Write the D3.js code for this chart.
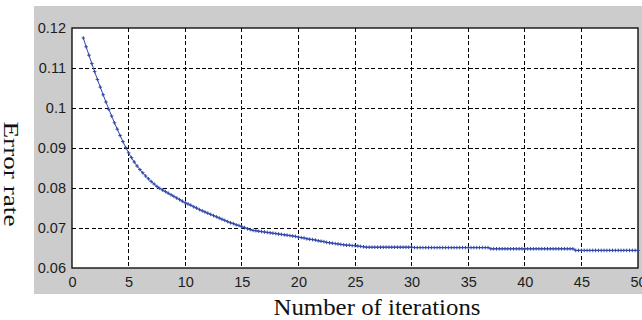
<!DOCTYPE html>
<html>
<head>
  <meta charset="utf-8">
  <script src="https://d3js.org/d3.v7.min.js"></script>
  <style>
    body { margin: 0; background: #fff; }
    .tick text { font-family: "Liberation Sans", Arial, sans-serif; font-size: 14.5px; fill: #1c1c1c; }
    .label { font-family: "Liberation Serif", "Times New Roman", serif; fill: #111; }
  </style>
</head>
<body>
<script>
// sampling of the curve: first iteration and step between samples
var iterStart = 1,
    iterStep = 0.25;

// error rate, one value per sample (1 .. 50 step 0.25)
var errorRate = [
  0.1175, 0.1153, 0.1132, 0.1111, 0.1091, 0.1071, 0.1052, 0.1033,
  0.1015, 0.0997, 0.0980, 0.0963, 0.0947, 0.0931, 0.0916, 0.0901,
  0.0888, 0.0876, 0.0865, 0.0855, 0.0846, 0.0838, 0.0830, 0.0823,
  0.0816, 0.0810, 0.0804, 0.0799, 0.0795, 0.0791, 0.0787, 0.0783,
  0.0779, 0.0775, 0.0771, 0.0767, 0.0763, 0.0760, 0.0757, 0.0753,
  0.0750, 0.0746, 0.0743, 0.0740, 0.0737, 0.0734, 0.0731, 0.0728,
  0.0725, 0.0722, 0.0719, 0.0716, 0.0713, 0.0711, 0.0708, 0.0706,
  0.0703, 0.0701, 0.0698, 0.0696, 0.0694, 0.0693, 0.0692, 0.0691,
  0.0690, 0.0689, 0.0688, 0.0687, 0.0686, 0.0685, 0.0684, 0.0683,
  0.0682, 0.0681, 0.0680, 0.0679, 0.0677, 0.0676, 0.0675, 0.0673,
  0.0672, 0.0671, 0.0670, 0.0668, 0.0667, 0.0666, 0.0664, 0.0663,
  0.0662, 0.0661, 0.0660, 0.0659, 0.0658, 0.0657, 0.0657, 0.0656,
  0.0656, 0.0655, 0.0654, 0.0653,
  // 26 .. 30
  0.0652, 0.0652, 0.0652, 0.0652, 0.0652, 0.0652, 0.0652, 0.0652,
  0.0652, 0.0652, 0.0652, 0.0652, 0.0652, 0.0652, 0.0652, 0.0652, 0.0652,
  // 30.25 .. 36.75
  0.0651, 0.0651, 0.0651, 0.0651, 0.0651, 0.0651, 0.0651, 0.0651, 0.0651,
  0.0651, 0.0651, 0.0651, 0.0651, 0.0651, 0.0651, 0.0651, 0.0651, 0.0651,
  0.0651, 0.0651, 0.0651, 0.0651, 0.0651, 0.0651, 0.0651, 0.0651, 0.0651,
  // 37 .. 44.25
  0.0648, 0.0648, 0.0648, 0.0648, 0.0648, 0.0648, 0.0648, 0.0648, 0.0648, 0.0648,
  0.0648, 0.0648, 0.0648, 0.0648, 0.0648, 0.0648, 0.0648, 0.0648, 0.0648, 0.0648,
  0.0648, 0.0648, 0.0648, 0.0648, 0.0648, 0.0648, 0.0648, 0.0648, 0.0648, 0.0648,
  // 44.5 .. 50
  0.0644, 0.0644, 0.0644, 0.0644, 0.0644, 0.0644, 0.0644, 0.0644,
  0.0644, 0.0644, 0.0644, 0.0644, 0.0644, 0.0644, 0.0644, 0.0644,
  0.0644, 0.0644, 0.0644, 0.0644, 0.0644, 0.0644, 0.0644
];

var xTicks = [0, 5, 10, 15, 20, 25, 30, 35, 40, 45, 50];
var yTicks = [0.06, 0.07, 0.08, 0.09, 0.1, 0.11, 0.12];
var xLabel = "Number of iterations",
    yLabel = "Error rate";

var width = 642, height = 320;
var plotLeft = 72, plotRight = 638, plotTop = 28, plotBottom = 268;

var data = errorRate.map(function (v, i) {
  return { iter: iterStart + i * iterStep, err: v };
});

var svg = d3.select("body").append("svg")
    .attr("width", width)
    .attr("height", height);

svg.append("rect")
    .attr("width", width).attr("height", height)
    .attr("fill", "#fff");

// grey figure background
svg.append("rect")
    .attr("x", 34).attr("y", 6)
    .attr("width", width - 34).attr("height", 288)
    .attr("fill", "#cccccc");

var x = d3.scaleLinear().domain([0, 50]).range([plotLeft, plotRight]);
var y = d3.scaleLinear().domain([0.06, 0.12]).range([plotBottom, plotTop]);

svg.append("rect")
    .attr("x", plotLeft).attr("y", plotTop)
    .attr("width", plotRight - plotLeft).attr("height", plotBottom - plotTop)
    .attr("fill", "#fff");

// dashed grid
svg.append("g").selectAll("line")
    .data(xTicks.slice(1, -1))
  .join("line")
    .attr("x1", function (d) { return x(d); })
    .attr("x2", function (d) { return x(d); })
    .attr("y1", plotTop).attr("y2", plotBottom)
    .attr("stroke", "#000").attr("stroke-width", 1)
    .attr("stroke-dasharray", "4,2.5")
    .attr("shape-rendering", "crispEdges");

svg.append("g").selectAll("line")
    .data(yTicks.slice(1, -1))
  .join("line")
    .attr("y1", function (d) { return y(d); })
    .attr("y2", function (d) { return y(d); })
    .attr("x1", plotLeft).attr("x2", plotRight)
    .attr("stroke", "#000").attr("stroke-width", 1)
    .attr("stroke-dasharray", "4,2.5")
    .attr("shape-rendering", "crispEdges");

// axes
var gx = svg.append("g")
    .attr("transform", "translate(0," + plotBottom + ")")
    .call(d3.axisBottom(x).tickValues(xTicks).tickSize(0).tickPadding(9));
var gy = svg.append("g")
    .attr("transform", "translate(" + plotLeft + ",0)")
    .call(d3.axisLeft(y).tickValues(yTicks).tickSize(0).tickPadding(6)
      .tickFormat(d3.format("~g")));
gx.select(".domain").remove();
gy.select(".domain").remove();

// box around the axes
svg.append("rect")
    .attr("x", plotLeft).attr("y", plotTop)
    .attr("width", plotRight - plotLeft).attr("height", plotBottom - plotTop)
    .attr("fill", "none").attr("stroke", "#000").attr("stroke-width", 1.3);

// curve with + markers
var blue = "#2f46aa";
svg.append("path")
    .datum(data)
    .attr("fill", "none")
    .attr("stroke", blue)
    .attr("stroke-width", 1)
    .attr("d", d3.line()
      .x(function (d) { return x(d.iter); })
      .y(function (d) { return y(d.err); }));

svg.append("g").selectAll("path")
    .data(data)
  .join("path")
    .attr("transform", function (d) { return "translate(" + x(d.iter) + "," + y(d.err) + ")"; })
    .attr("d", "M-1.8,0H1.8M0,-1.8V1.8")
    .attr("stroke", blue)
    .attr("stroke-width", 1);

// axis titles
svg.append("text")
    .attr("class", "label")
    .attr("x", 377).attr("y", 315)
    .attr("text-anchor", "middle")
    .attr("font-size", 23)
    .attr("textLength", 207)
    .attr("lengthAdjust", "spacingAndGlyphs")
    .text(xLabel);

svg.append("text")
    .attr("class", "label")
    .attr("transform", "translate(4,174) rotate(90)")
    .attr("text-anchor", "middle")
    .attr("font-size", 21)
    .attr("textLength", 105)
    .attr("lengthAdjust", "spacingAndGlyphs")
    .text(yLabel);
</script>
</body>
</html>
